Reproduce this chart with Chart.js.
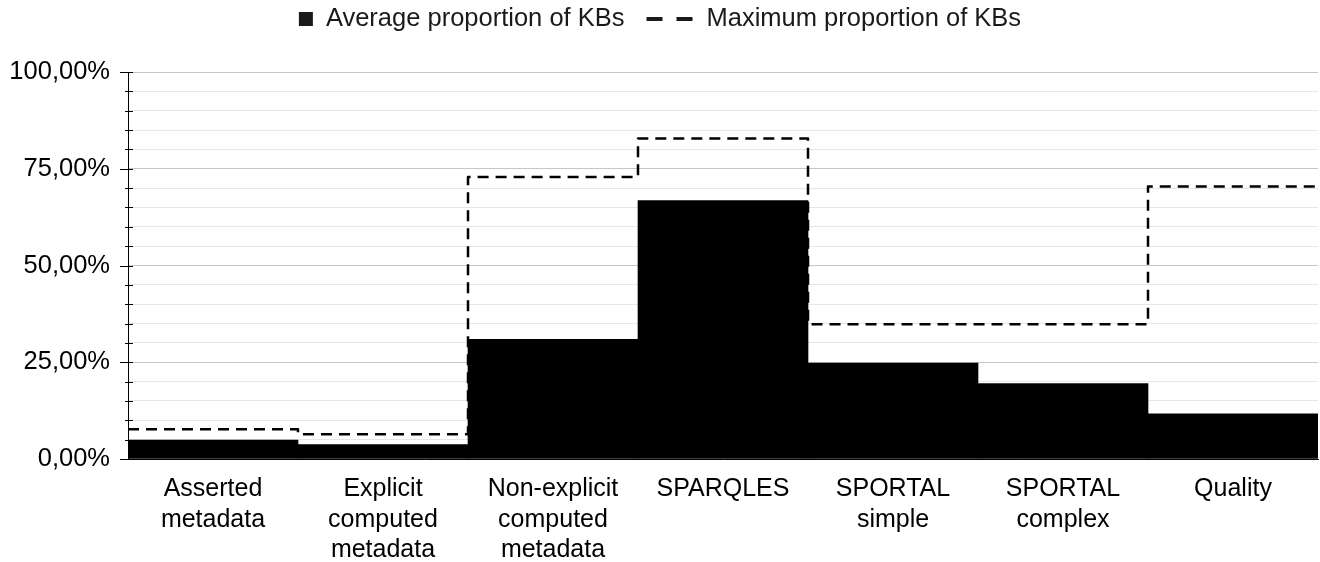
<!DOCTYPE html>
<html>
<head>
<meta charset="utf-8">
<script src="https://cdn.jsdelivr.net/npm/chart.js@4"></script>
<style>
  html, body { margin: 0; padding: 0; background: #fff; }
  #wrap { width: 1320px; height: 562px; }
</style>
</head>
<body>
<div id="wrap"><canvas id="chartKB" width="1320" height="562"></canvas></div>
<script>

const categories = [
  ['Asserted', 'metadata'],
  ['Explicit', 'computed', 'metadata'],
  ['Non-explicit', 'computed', 'metadata'],
  ['SPARQLES'],
  ['SPORTAL', 'simple'],
  ['SPORTAL', 'complex'],
  ['Quality']
];

const averageValues = [4.9, 3.7, 30.9, 66.8, 24.8, 19.5, 11.7];

const maximumValues = [7.7, 6.4, 72.9, 82.8, 34.8, 34.8, 70.4];

const seriesNames = [
  'Average proportion of KBs',
  'Maximum proportion of KBs'
];

const yTicks = [0, 25, 50, 75, 100];

const FONT = '"Liberation Sans", Arial, sans-serif';

// step line runs across the whole width of each category
const maxSteps =
  maximumValues.map((v, i) => ({ x: i, y: v }));

maxSteps.push({
  x: maximumValues.length,
  y: maximumValues[maximumValues.length - 1]
});

function fmtPct(v) {
  return v.toFixed(2).replace('.', ',') + '%';
}

// legend drawn by hand: square for the bars, two dashes for the line
const topLegend = {

  id: 'topLegend',

  afterDraw(chart) {

    const ctx = chart.ctx;
    ctx.save();
    ctx.font = '25.5px ' + FONT;
    ctx.textBaseline = 'middle';
    ctx.fillStyle = '#1a1a1a';

    const w1 = ctx.measureText(seriesNames[0]).width;
    const w2 = ctx.measureText(seriesNames[1]).width;
    const total = 14 + 13 + w1 + 22 + 46 + 14 + w2;

    let x = (chart.width - total) / 2;
    const cy = 19;

    ctx.fillRect(x, cy - 7, 14, 14);
    x += 27;
    ctx.fillText(seriesNames[0], x, cy);
    x += w1 + 22;

    ctx.fillRect(x, cy - 2, 16, 4);
    ctx.fillRect(x + 30, cy - 2, 16, 4);
    x += 60;
    ctx.fillText(seriesNames[1], x, cy);

    ctx.restore();
  }
};

// small tick marks on the value axis
const axisTicks = {

  id: 'axisTicks',

  afterDraw(chart) {

    const y = chart.scales.y;
    const ctx = chart.ctx;
    ctx.save();
    ctx.strokeStyle = '#000';
    ctx.lineWidth = 1;

    y.ticks.forEach(t => {

      const py = Math.round(y.getPixelForValue(t.value)) + 0.5;
      const major = yTicks.includes(t.value);

      ctx.beginPath();
      ctx.moveTo(y.right - (major ? 8 : 3), py);
      ctx.lineTo(y.right + 5, py);
      ctx.stroke();
    });

    ctx.restore();
  }
};

const ctx =
  document
    .getElementById('chartKB')
    .getContext('2d');

const chart = new Chart(ctx, {

  type: 'bar',

  data: {

    labels: categories,

    datasets: [

      {
        label: seriesNames[0],
        data: averageValues,
        backgroundColor: '#000',
        borderWidth: 0,
        grouped: false,
        categoryPercentage: 1,
        barPercentage: 1,
        order: 2
      },

      {
        type: 'line',
        label: seriesNames[1],
        data: maxSteps,
        xAxisID: 'xLine',
        stepped: true,
        fill: false,
        borderColor: '#000',
        borderWidth: 2.5,
        borderDash: [11, 7],
        borderJoinStyle: 'round',
        pointRadius: 0,
        order: 1
      }
    ]
  },

  options: {

    responsive: false,
    animation: false,

    layout: {
      padding: { top: 72, right: 2, left: 0, bottom: 0 }
    },

    plugins: {
      legend: { display: false },
      tooltip: { enabled: false }
    },

    scales: {

      x: {
        type: 'category',
        offset: true,
        grid: { display: false, drawTicks: false },
        border: { display: true, color: '#000' },
        ticks: {
          color: '#000',
          padding: 15,
          maxRotation: 0,
          autoSkip: false,
          font: { family: FONT, size: 25, lineHeight: 1.22 }
        },
        afterFit(scale) {
          scale.height = 103;
        }
      },

      xLine: {
        type: 'linear',
        display: false,
        offset: false,
        grid: { offset: false },
        min: 0,
        max: categories.length
      },

      y: {
        min: 0,
        max: 100,
        border: { display: true, color: '#000' },
        grid: {
          color: c =>
            yTicks.includes(c.tick.value) ? '#c6c6c6' : '#e6e6e6',
          tickColor: 'rgba(0,0,0,0)',
          tickLength: 8
        },
        ticks: {
          stepSize: 5,
          autoSkip: false,
          color: '#000',
          padding: 10,
          font: { family: FONT, size: 25.5 },
          callback: v => yTicks.includes(v) ? fmtPct(v) : ''
        },
        afterFit(scale) {
          scale.width = 128;
        }
      }
    }
  },

  plugins: [topLegend, axisTicks]
});

</script>
</body>
</html>
